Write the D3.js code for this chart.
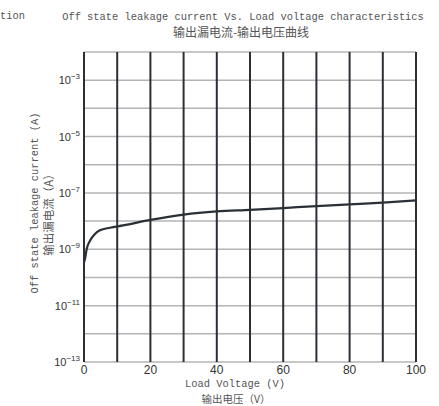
<!DOCTYPE html>
<html><head><meta charset="utf-8">
<script src="https://cdn.jsdelivr.net/npm/d3@7"></script>
<style>body{margin:0;background:#fff}svg{display:block}</style>
</head><body><svg id="c" width="439" height="406"></svg>
<script>
const voltage = [0, 0.3, 0.8, 1.8, 3.3, 4.8, 7.8, 11.8, 20, 30, 40, 50, 60, 70, 80, 90, 100];
const current = [3.5e-10, 4.5e-10, 1.0e-9, 2.0e-9, 3.5e-9, 4.7e-9, 5.8e-9, 7e-9, 1.1e-8, 1.7e-8, 2.2e-8, 2.5e-8, 2.9e-8, 3.4e-8, 3.9e-8, 4.5e-8, 5.4e-8];
const xTicks = [0, 20, 40, 60, 80, 100];
const yLabelExps = [-3, -5, -7, -9, -11, -13];
const titleLines = ["Off state leakage current Vs. Load voltage characteristics", "输出漏电流-输出电压曲线"];
const xTitle = ["Load Voltage (V)", "输出电压（V）"];
const yTitle = ["Off state leakage current (A)", "输出漏电流（A）"];

const svg = d3.select("#c");
const L = 84, R = 416, T = 52, B = 362;
const x = d3.scaleLinear().domain([0, 100]).range([L, R]);
const y = d3.scaleLog().domain([1e-13, 1e-2]).range([B, T]);
const dark = "#2b2f36", gray = "#b4b4b4", txt = "#555";
const mono = "'Liberation Mono', 'DejaVu Sans Mono', monospace";
const cjk = "'Noto Sans CJK SC', sans-serif";
const sans = "'Liberation Sans', Arial, sans-serif";

const decades = d3.range(-13, -1).map(e => Math.pow(10, e));
svg.append("g").selectAll("line").data(decades).join("line")
  .attr("x1", L).attr("x2", R).attr("y1", d => y(d)).attr("y2", d => y(d))
  .attr("stroke", gray).attr("stroke-width", 1.5);
svg.append("g").selectAll("line").data(d3.range(0, 101, 10)).join("line")
  .attr("x1", d => x(d)).attr("x2", d => x(d)).attr("y1", T).attr("y2", B)
  .attr("stroke", dark).attr("stroke-width", 2);

svg.append("path").datum(voltage.map((v, i) => [v, current[i]]))
  .attr("d", d3.line().x(d => x(d[0])).y(d => y(d[1])).curve(d3.curveMonotoneX))
  .attr("fill", "none").attr("stroke", dark).attr("stroke-width", 2.2);

svg.append("g").selectAll("text").data(xTicks).join("text")
  .attr("x", d => x(d)).attr("y", B + 12).attr("text-anchor", "middle")
  .attr("font-family", sans).attr("font-size", 12).attr("fill", "#333")
  .text(d => d);

const yl = svg.append("g").selectAll("text").data(yLabelExps).join("text")
  .attr("x", 80).attr("y", d => y(Math.pow(10, d)) + 4).attr("text-anchor", "end")
  .attr("font-family", sans).attr("font-size", 11).attr("fill", "#333");
yl.append("tspan").text("10");
yl.append("tspan").attr("dy", -5).attr("font-size", 8).text(d => "\u2212" + Math.abs(d));

svg.append("text").attr("x", 0).attr("y", 19).attr("font-family", mono).attr("font-size", 10.4).attr("fill", txt).text("tion");
svg.append("text").attr("x", 243).attr("y", 20).attr("text-anchor", "middle").attr("font-family", mono).attr("font-size", 10.4).attr("fill", txt).text(titleLines[0]);
svg.append("text").attr("x", 241).attr("y", 37).attr("text-anchor", "middle").attr("font-family", cjk).attr("font-size", 12).attr("fill", txt).text(titleLines[1]);

svg.append("text").attr("x", 235).attr("y", 387).attr("text-anchor", "middle").attr("font-family", mono).attr("font-size", 10.4).attr("fill", txt).text(xTitle[0]);
svg.append("text").attr("x", 236).attr("y", 403).attr("text-anchor", "middle").attr("font-family", cjk).attr("font-size", 10.5).attr("fill", txt).text(xTitle[1]);

svg.append("text").attr("transform", "translate(38,203) rotate(-90)").attr("text-anchor", "middle").attr("font-family", mono).attr("font-size", 10.4).attr("fill", txt).text(yTitle[0]);
svg.append("text").attr("transform", "translate(53,212) rotate(-90)").attr("text-anchor", "middle").attr("font-family", cjk).attr("font-size", 11.5).attr("fill", txt).text(yTitle[1]);
</script></body></html>
